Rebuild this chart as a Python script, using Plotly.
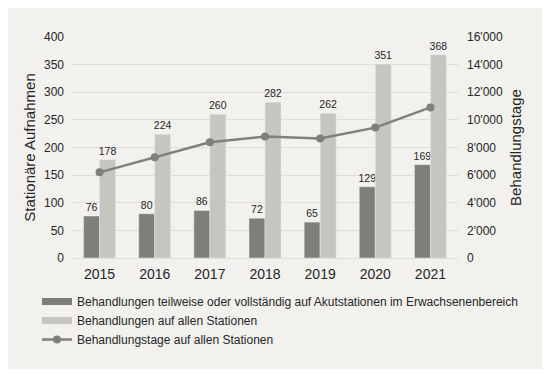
import plotly.graph_objects as go

# ---- data ----
years = ["2015", "2016", "2017", "2018", "2019", "2020", "2021"]
akut = [76, 80, 86, 72, 65, 129, 169]
alle = [178, 224, 260, 282, 262, 351, 368]
tage = [6200, 7300, 8380, 8790, 8650, 9440, 10900]
left_ticks = [0, 50, 100, 150, 200, 250, 300, 350, 400]
right_ticks = [0, 2000, 4000, 6000, 8000, 10000, 12000, 14000, 16000]

names = [
    "Behandlungen teilweise oder vollständig auf Akutstationen im Erwachsenenbereich",
    "Behandlungen auf allen Stationen",
    "Behandlungstage auf allen Stationen",
]

# ---- style ----
W, H = 536, 361
ML, MR, MT, MB = 64, 86, 29, 111
PW, PH = W - ML - MR, H - MT - MB
BG = "#f2f1ed"
DARK = "#7e7e7a"
LIGHT = "#c6c5c0"
LINE = "#7f7f7d"
TXT = "#262626"
FONT = "Liberation Sans, Arial, sans-serif"


def px_x(p):
    return (p - ML) / PW


def px_y(p):
    return (H - MB - p) / PH


fig = go.Figure()
fig.add_trace(go.Bar(
    x=years, y=akut, name=names[0], marker_color=DARK, showlegend=False,
    text=akut, textposition="outside", constraintext="none", cliponaxis=False,
    textfont=dict(size=10.5, color=TXT, family=FONT),
))
fig.add_trace(go.Bar(
    x=years, y=alle, name=names[1], marker_color=LIGHT, showlegend=False,
    text=alle, textposition="outside", constraintext="none", cliponaxis=False,
    textfont=dict(size=10.5, color=TXT, family=FONT),
))
fig.add_trace(go.Scatter(
    x=years, y=tage, name=names[2], yaxis="y2", mode="lines+markers",
    line=dict(color=LINE, width=2.5), marker=dict(color=LINE, size=8),
    legendrank=3,
))
# legend keys for the bar series (wide rectangular swatches)
fig.add_trace(go.Scatter(x=[None], y=[None], mode="lines", name=names[0],
                         line=dict(color=DARK, width=7), legendrank=1))
fig.add_trace(go.Scatter(x=[None], y=[None], mode="lines", name=names[1],
                         line=dict(color=LIGHT, width=7), legendrank=2))

fig.update_layout(
    width=W, height=H,
    margin=dict(l=ML, r=MR, t=MT, b=MB),
    paper_bgcolor=BG, plot_bgcolor=BG,
    font=dict(family=FONT, color=TXT),
    separators=".'",
    barmode="group", bargap=0.42, bargroupgap=0,
    xaxis=dict(tickfont=dict(size=14), showline=False, showgrid=False,
               ticks="", zeroline=False, ticklabelstandoff=6),
    yaxis=dict(range=[0, 400], tickvals=left_ticks, tickfont=dict(size=12),
               gridcolor="#dedcd7", gridwidth=1, zeroline=True,
               zerolinecolor="#dedcd7", zerolinewidth=1, ticks="",
               ticklabelstandoff=7,
               title=dict(text="Stationäre Aufnahmen", font=dict(size=15), standoff=4)),
    yaxis2=dict(range=[0, 16000], tickvals=right_ticks, tickformat=",d",
                overlaying="y", side="right", showgrid=False, zeroline=False,
                tickfont=dict(size=12), ticks="", ticklabelstandoff=8,
                title=dict(text="Behandlungstage", font=dict(size=15), standoff=8)),
    legend=dict(orientation="v", x=px_x(29), xanchor="left",
                y=px_y(279), yanchor="top", font=dict(size=12),
                bgcolor="rgba(0,0,0,0)", itemwidth=30, traceorder="normal"),
)

fig.write_html("out.html")
